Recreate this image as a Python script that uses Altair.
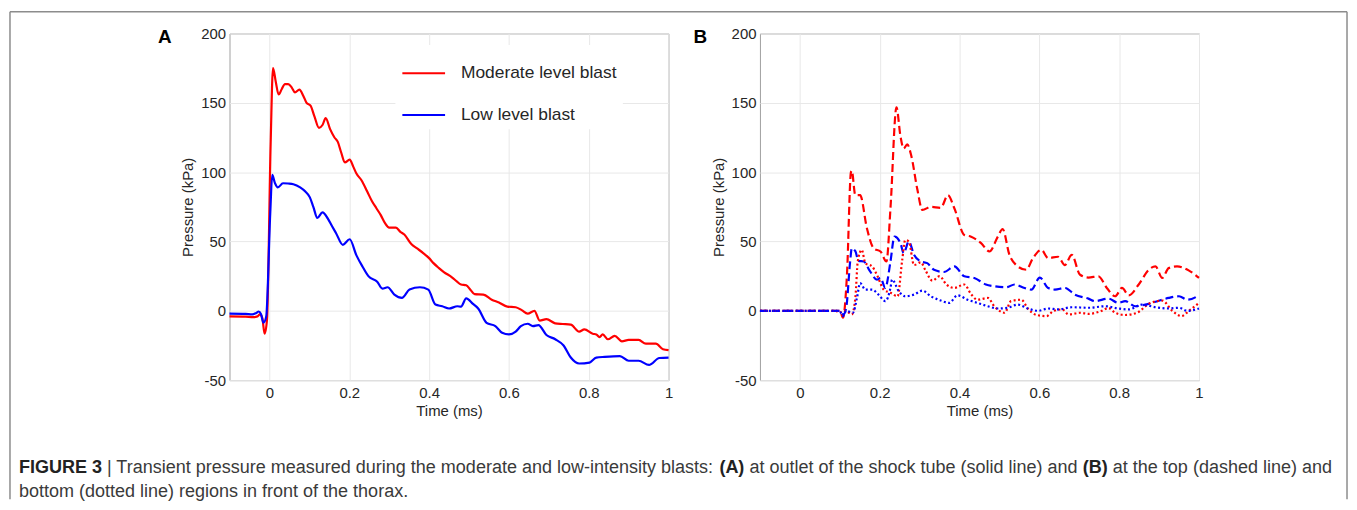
import altair as alt
import pandas as pd

# ---------------- data ----------------
SERIES = ["Moderate level blast", "Low level blast"]

# Panel A: outlet of the shock tube (solid lines)
A_mod_t = [-0.1, -0.06, -0.04, -0.03, -0.024, -0.018, -0.012, -0.006, 0.003, 0.009, 0.016, 0.023, 0.031,
           0.039, 0.047, 0.056, 0.064, 0.075, 0.085, 0.093, 0.103, 0.113, 0.124, 0.133, 0.141, 0.152,
           0.163, 0.171, 0.18, 0.189, 0.201, 0.21, 0.218, 0.231, 0.245, 0.257, 0.268, 0.279, 0.29, 0.30,
           0.317, 0.328, 0.338, 0.356, 0.37, 0.386, 0.40, 0.411, 0.424, 0.437, 0.458, 0.47, 0.48, 0.493,
           0.504, 0.514, 0.536, 0.557, 0.575, 0.596, 0.617, 0.632, 0.647, 0.664, 0.677, 0.694, 0.716,
           0.735, 0.755, 0.776, 0.789, 0.81, 0.819, 0.827, 0.835, 0.848, 0.865, 0.883, 0.9, 0.925, 0.943,
           0.968, 0.986, 1.0]
A_mod_p = [-4, -4.2, -4.5, -4, -2.5, -5, -16.5, -6, 120, 175, 165, 156, 160,
           163.5, 163.5, 161, 157.5, 159.5, 155, 150, 148, 140, 132, 134, 139, 131,
           125, 122, 114, 107, 109, 104, 99, 94, 86, 79, 74, 69, 63, 60,
           60, 57, 55, 48, 45, 41.5, 38, 34.4, 31, 28, 24, 21, 19, 18.4,
           15, 12, 11.7, 8, 6, 3, 2.6, 0.5, -2, 0, -7, -6, -9,
           -9.5, -10, -15, -13.4, -16.5, -17, -19, -17, -20.5, -18, -22, -21, -21, -23.7,
           -23.7, -27.7, -28.4]

A_low_t = [-0.1, -0.06, -0.043, -0.033, -0.027, -0.021, -0.015, -0.008, 0.002, 0.007, 0.014, 0.021, 0.034,
           0.047, 0.06, 0.077, 0.09, 0.101, 0.11, 0.12, 0.133, 0.146, 0.157, 0.167, 0.184, 0.201, 0.218,
           0.233, 0.248, 0.27, 0.283, 0.296, 0.313, 0.332, 0.351, 0.377, 0.398, 0.416, 0.433, 0.45, 0.471,
           0.48, 0.493, 0.51, 0.523, 0.544, 0.566, 0.583, 0.6, 0.617, 0.63, 0.647, 0.66, 0.674, 0.694,
           0.716, 0.737, 0.755, 0.776, 0.802, 0.819, 0.84, 0.878, 0.9, 0.925, 0.951, 0.977, 1.0]
A_low_p = [-2, -2.2, -2.6, -1.5, -0.5, -2.5, -8.6, -4, 70, 98, 92, 89, 92,
           91.8, 91.3, 89, 86, 82, 75, 67, 71, 66.7, 61, 56, 47.6, 51.6, 40,
           32, 25, 21, 16, 17, 11.7, 9.3, 15.3, 17, 15.3, 4.5, 3.3, 1.7, 3.3,
           3, 9, 5, 1.7, -8.6, -11, -15.8, -17, -15, -11, -9.3, -11, -10.3, -17.4,
           -20.5, -25, -33.7, -38, -37.3, -33.7, -33.2, -32.7, -36, -36, -39, -34, -33.7]

# Panel B: top (dashed) and bottom (dotted) regions in front of the thorax
B_mod_top_t = [-0.1, 0.09, 0.1, 0.108, 0.118, 0.128, 0.13, 0.139, 0.151, 0.168, 0.185, 0.202, 0.217, 0.227,
               0.242, 0.252, 0.26, 0.269, 0.279, 0.294, 0.307, 0.328, 0.353, 0.371, 0.387, 0.412, 0.429,
               0.454, 0.475, 0.496, 0.508, 0.525, 0.542, 0.567, 0.584, 0.605, 0.622, 0.647, 0.664, 0.681,
               0.702, 0.723, 0.748, 0.769, 0.79, 0.807, 0.824, 0.849, 0.874, 0.891, 0.908, 0.924, 0.945,
               0.975, 1.0]
B_mod_top_p = [0, 0, 0, -5, 26, 100, 101, 83.4, 83.4, 59.5, 45, 42.8, 35.6, 74,
               146.7, 126, 117, 120, 112, 88, 72.7, 75, 74.3, 83.4, 74, 54.7, 53.5,
               48.8, 42.8, 53.5, 59, 40.4, 33, 29.6, 38, 44, 38, 39, 33, 40.4,
               26, 24, 24.9, 16.5, 10.5, 16.5, 11.2, 19, 29.6, 32, 23.7, 30.8, 32,
               29, 23.7]

B_low_top_t = [-0.1, 0.1, 0.109, 0.116, 0.126, 0.13, 0.139, 0.147, 0.16, 0.176, 0.193, 0.202, 0.214, 0.227,
               0.237, 0.252, 0.26, 0.273, 0.286, 0.303, 0.319, 0.336, 0.361, 0.387, 0.412, 0.437, 0.466,
               0.487, 0.517, 0.538, 0.563, 0.58, 0.601, 0.622, 0.639, 0.664, 0.689, 0.723, 0.739, 0.773,
               0.798, 0.815, 0.84, 0.866, 0.891, 0.924, 0.95, 0.971, 1.0]
B_low_top_p = [0, 0, -2.6, 2, 35.6, 45, 43, 36, 35.6, 28.4, 22.5, 23.7, 16.5, 35.6,
               53.5, 48.8, 41.6, 50, 40.4, 35.6, 34.4, 29.6, 28, 32, 24.9, 23.7, 19,
               17.7, 17, 19, 16.5, 15.3, 24, 16.5, 15.3, 16.5, 11.7, 8.8, 7, 8.8,
               5.7, 7, 3.3, 4.5, 6.5, 9.3, 10.5, 8, 11.2]

B_mod_bot_t = [-0.1, 0.09, 0.1, 0.108, 0.118, 0.13, 0.139, 0.145, 0.155, 0.164, 0.181, 0.193, 0.21, 0.227,
               0.245, 0.256, 0.264, 0.273, 0.286, 0.303, 0.315, 0.332, 0.35, 0.367, 0.387, 0.412, 0.429,
               0.445, 0.471, 0.487, 0.513, 0.529, 0.555, 0.571, 0.593, 0.618, 0.636, 0.657, 0.674, 0.702,
               0.723, 0.756, 0.773, 0.79, 0.815, 0.845, 0.874, 0.908, 0.933, 0.956, 0.975, 1.0]
B_mod_bot_p = [0, 0, -1.4, 0, -0.5, -2.6, 9.3, 35.6, 44, 34.4, 32, 26, 15.3, 13,
               10.5, 35.6, 51, 50, 33, 35, 29, 21.7, 25, 19, 16.5, 19, 12,
               8, 9.3, 3.3, -1.4, 7, 8, 1.7, -3, -3.8, 0, 1, -2.6, -1.4,
               -2.2, 0, 2, -1.4, -3, -1.4, 5, 7.4, 0, -3.8, 0, 5.7]

B_low_bot_t = [-0.1, 0.09, 0.1, 0.108, 0.116, 0.133, 0.143, 0.151, 0.164, 0.181, 0.197, 0.214, 0.227, 0.231,
               0.248, 0.264, 0.286, 0.307, 0.328, 0.353, 0.374, 0.395, 0.42, 0.445, 0.471, 0.496, 0.521,
               0.546, 0.571, 0.597, 0.622, 0.647, 0.681, 0.723, 0.765, 0.798, 0.824, 0.857, 0.891, 0.924,
               0.95, 0.971, 1.0]
B_low_bot_p = [0, 0, -0.5, -3.8, 0, -1.4, 9.3, 20, 15.3, 15.3, 11.7, 7, 16.5, 22.5,
               14, 10.5, 11.7, 14.6, 10.5, 7.4, 5.7, 11.2, 8, 5.7, 3.3, 1.7, 2.2,
               4.5, 1.7, 0, 1.7, 1, 2.6, 2.2, 3.3, 1.7, 1, 4.5, 2.6, 1.7,
               2.2, 0, 1.7]

X_TICKS = [0, 0.2, 0.4, 0.6, 0.8, 1]
Y_TICKS = [-50, 0, 50, 100, 150, 200]

CAPTION_1 = [
    ("FIGURE 3", True),
    (" | Transient pressure measured during the moderate and low-intensity blasts: ", False),
    ("(A)", True),
    (" at outlet of the shock tube (solid line) and ", False),
    ("(B)", True),
    (" at the top (dashed line) and", False),
]
CAPTION_2 = "bottom (dotted line) regions in front of the thorax."


def series_df(t, p, name, loc):
    assert len(t) == len(p)
    return pd.DataFrame({"t": t, "p": p, "series": name, "loc": loc})


dfA = pd.concat([
    series_df(A_mod_t, A_mod_p, SERIES[0], "outlet"),
    series_df(A_low_t, A_low_p, SERIES[1], "outlet"),
])
dfB = pd.concat([
    series_df(B_mod_top_t, B_mod_top_p, SERIES[0], "top"),
    series_df(B_low_top_t, B_low_top_p, SERIES[1], "top"),
    series_df(B_mod_bot_t, B_mod_bot_p, SERIES[0], "bottom"),
    series_df(B_low_bot_t, B_low_bot_p, SERIES[1], "bottom"),
])
dfB["key"] = dfB["series"] + "|" + dfB["loc"]

# ---------------- styling / layout ----------------
FONT = "Liberation Sans"
W, H = 442, 349
GAP = 92
RED, BLUE = "#ff0000", "#0000ff"
TXT = "#262626"
FRAME = "#8c8c8c"

xs = alt.Scale(domain=[-0.1, 1], nice=False, zero=False)
ys = alt.Scale(domain=[-50, 200], nice=False, zero=False)
cs = alt.Scale(domain=SERIES, range=[RED, BLUE])

x_axis = alt.Axis(values=X_TICKS, format="~g", title="Time (ms)")
y_axis = alt.Axis(values=Y_TICKS, title="Pressure (kPa)",
                  labelExpr="replace(datum.label, '\u2212', '-')")

one = pd.DataFrame({"k": [0]})

legendA = alt.Legend(
    title=None, orient="none", legendX=167, legendY=11.5,
    symbolType="stroke", symbolStrokeWidth=2, symbolSize=1849,
    labelFont=FONT, labelFontSize=17.5, labelColor=TXT, labelOffset=15,
    rowPadding=11, padding=6, fillColor="white",
)

linesA = alt.Chart(dfA).mark_line(strokeWidth=2.2, interpolate="monotone").encode(
    x=alt.X("t:Q", scale=xs, axis=x_axis),
    y=alt.Y("p:Q", scale=ys, axis=y_axis),
    color=alt.Color("series:N", scale=cs, legend=legendA),
    detail="series:N",
)

linesB = alt.Chart(dfB).mark_line(strokeWidth=2.2, interpolate="monotone").encode(
    x=alt.X("t:Q", scale=xs, axis=x_axis),
    y=alt.Y("p:Q", scale=ys, axis=y_axis),
    color=alt.Color("series:N", scale=cs, legend=None),
    strokeDash=alt.StrokeDash("loc:N", scale=alt.Scale(domain=["top", "bottom"], range=[[8, 4], [2, 2.5]]),
                              legend=None),
    detail="key:N",
)


def panel_label(txt, x):
    return alt.Chart(one).mark_text(text=txt, font=FONT, fontSize=19, fontWeight="bold", color="black",
                                    align="left", baseline="middle").encode(x=alt.value(x), y=alt.value(4))


# outer frame (top, left, right) relative to panel A's plot origin
FL, FR, FT, FB = -221, 1125, -22, 469
frame = [
    alt.Chart(one).mark_rule(color=FRAME, strokeWidth=1.5).encode(x=alt.value(FL), x2=alt.value(FR), y=alt.value(FT)),
    alt.Chart(one).mark_rule(color=FRAME, strokeWidth=1.5).encode(x=alt.value(FL), y=alt.value(FT), y2=alt.value(FB)),
    alt.Chart(one).mark_rule(color=FRAME, strokeWidth=1.5).encode(x=alt.value(FR), y=alt.value(FT), y2=alt.value(FB)),
]

# caption: width table of Arial / Liberation Sans (units per 1000 em)
REG = {" ": 278, "|": 260, ":": 278, "(": 333, ")": 333, "-": 333, ".": 278, "T": 611,
       "a": 556, "b": 556, "c": 500, "d": 556, "e": 556, "f": 278, "g": 556, "h": 556, "i": 222,
       "j": 222, "k": 500, "l": 222, "m": 833, "n": 556, "o": 556, "p": 556, "q": 556, "r": 333,
       "s": 500, "t": 278, "u": 556, "v": 500, "w": 722, "x": 500, "y": 500, "z": 500}
BOLD = {"F": 611, "I": 278, "G": 778, "U": 722, "R": 722, "E": 667, " ": 278, "3": 556,
        "(": 333, ")": 333, "A": 722, "B": 722}


def units(s, bold):
    tab = BOLD if bold else REG
    return sum(tab.get(ch, 556) for ch in s)


CAP_X0 = 18 - 230
CAP_W = 1340 - 18
total = sum(units(s, b) for s, b in CAPTION_1)
CAP_FS = CAP_W / (total / 1000.0)

caption = []
cx = CAP_X0
for s, b in CAPTION_1:
    lead = len(s) - len(s.lstrip(" "))
    start = cx + units(" " * lead, b) * CAP_FS / 1000.0
    caption.append(
        alt.Chart(one).mark_text(text=s.strip(" "), font=FONT, fontSize=CAP_FS,
                                 fontWeight="bold" if b else "normal",
                                 color="#222222" if b else "#3a3a3a", align="left", baseline="middle")
        .encode(x=alt.value(start), y=alt.value(437))
    )
    cx += units(s, b) * CAP_FS / 1000.0
caption.append(
    alt.Chart(one).mark_text(text=CAPTION_2, font=FONT, fontSize=CAP_FS, color="#3a3a3a",
                             align="left", baseline="middle")
    .encode(x=alt.value(CAP_X0), y=alt.value(462))
)

panelA = alt.layer(linesA, panel_label("A", -72), *frame, *caption).properties(width=W, height=H)
panelB = alt.layer(linesB, panel_label("B", -67)).properties(width=W, height=H)

chart = (
    alt.hconcat(panelA, panelB, spacing=GAP, bounds="flush")
    .resolve_scale(color="independent", strokeDash="independent")
    .properties(padding=0, background="white")
    .configure_view(stroke="#a0a0a0", strokeWidth=1)
    .configure_axis(
        labelFont=FONT, labelFontSize=15, labelColor=TXT,
        titleFont=FONT, titleFontSize=15, titleFontWeight="normal", titleColor=TXT,
        gridColor="#e8e8e8", gridWidth=1, domain=False, ticks=False,
        labelFlush=False, labelOverlap=False, labelBound=False,
    )
    .configure_axisX(labelPadding=5, titlePadding=4)
    .configure_axisY(labelPadding=4, titlePadding=5)
)

chart.save("out.html", embed_options={"renderer": "svg", "actions": False})
